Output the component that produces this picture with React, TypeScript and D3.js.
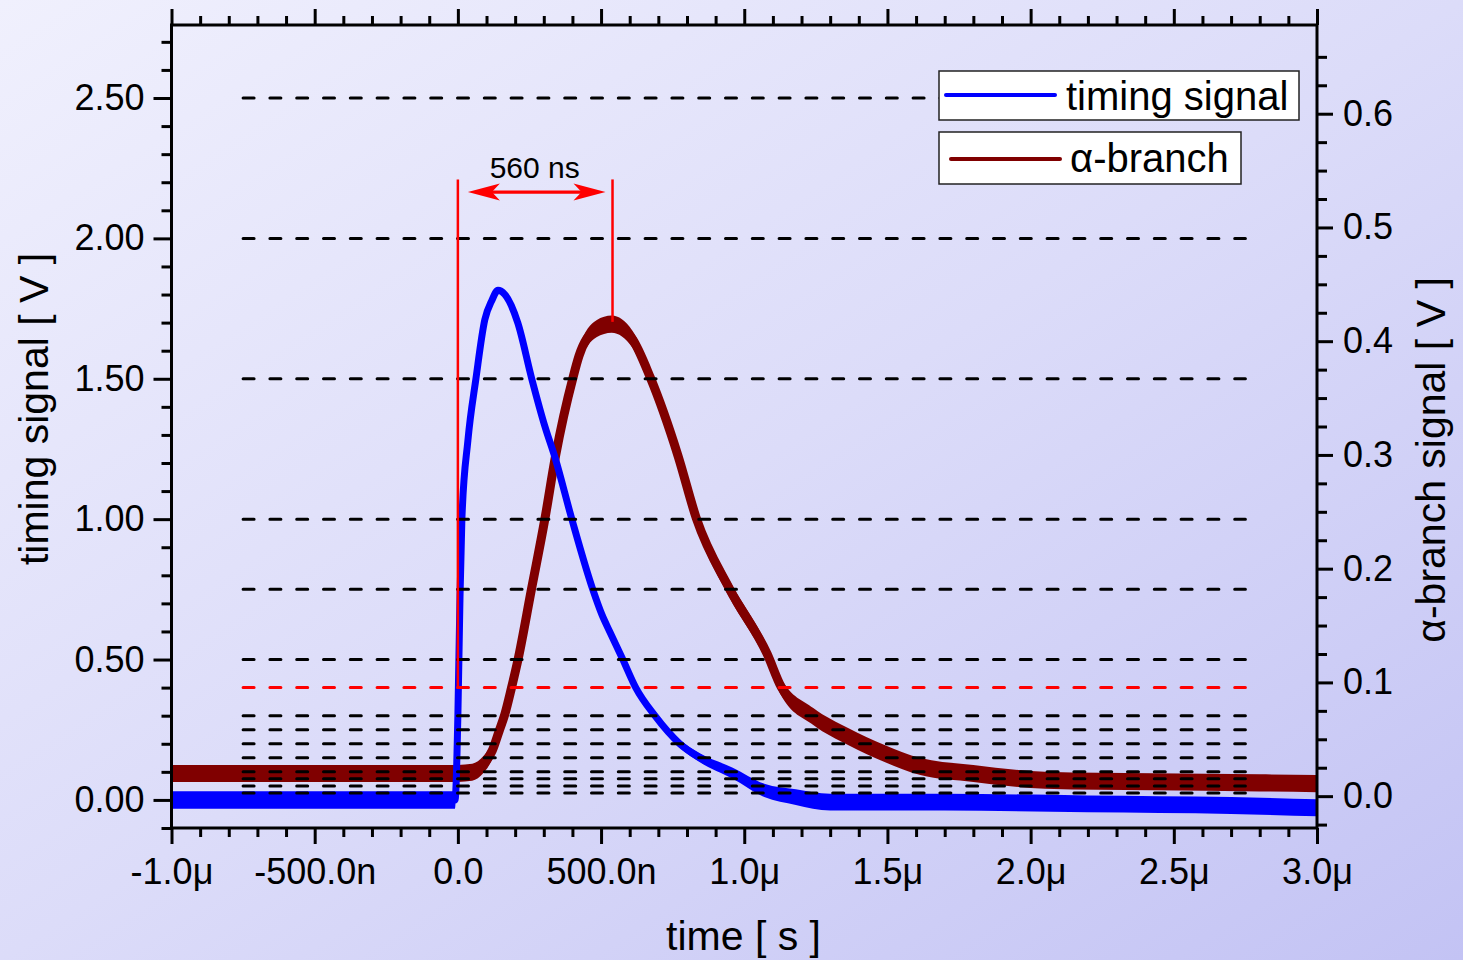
import { useEffect, useRef } from "react";
import * as d3 from "d3";

// time axis in µs, timing signal on the left axis [V]
const blueT = [-1.0, -0.75, -0.5, -0.25, -0.01, 0.0, 0.007, 0.014, 0.035, 0.063, 0.094, 0.119, 0.14, 0.164, 0.209, 0.258, 0.304, 0.339, 0.398, 0.471, 0.503, 0.53, 0.576, 0.621, 0.688, 0.775, 0.845, 0.96, 1.07, 1.18, 1.3, 1.7, 2.2, 2.7, 3.0];
const blueV = [0.0, 0.0, 0.0, 0.0, 0.0, 0.3, 0.7, 1.0, 1.28, 1.5, 1.71, 1.78, 1.815, 1.8, 1.7, 1.5, 1.33, 1.22, 1.0, 0.75, 0.66, 0.6, 0.5, 0.4, 0.3, 0.2, 0.15, 0.095, 0.034, 0.01, -0.008, -0.008, -0.014, -0.02, -0.028];
// half height of the noise band
const blueNoise = [0.031, 0.031, 0.031, 0.031, 0.031, 0.006, 0.004, 0.004, 0.004, 0.004, 0.005, 0.005, 0.006, 0.006, 0.006, 0.006, 0.006, 0.006, 0.006, 0.008, 0.008, 0.008, 0.01, 0.01, 0.012, 0.014, 0.016, 0.02, 0.024, 0.028, 0.03, 0.03, 0.03, 0.03, 0.03];

// alpha-branch on the right axis [V]
const brownT = [-1.0, -0.5, 0.0, 0.05, 0.09, 0.12, 0.145, 0.164, 0.187, 0.21, 0.257, 0.304, 0.341, 0.402, 0.423, 0.484, 0.537, 0.609, 0.672, 0.769, 0.833, 0.949, 1.08, 1.129, 1.241, 1.366, 1.49, 1.615, 1.8, 2.05, 2.425, 2.8, 3.0];
const brownV = [0.02, 0.02, 0.02, 0.021, 0.028, 0.04, 0.058, 0.072, 0.095, 0.12, 0.182, 0.244, 0.299, 0.368, 0.387, 0.411, 0.415, 0.402, 0.368, 0.299, 0.244, 0.182, 0.125, 0.096, 0.07, 0.052, 0.0375, 0.026, 0.02, 0.014, 0.0126, 0.0117, 0.011];
const brownNoise = [0.0075, 0.0075, 0.0075, 0.0075, 0.0075, 0.0075, 0.0075, 0.0075, 0.0075, 0.0075, 0.0075, 0.0075, 0.0075, 0.0075, 0.0075, 0.0075, 0.0075, 0.0075, 0.0075, 0.0075, 0.0075, 0.0075, 0.0075, 0.0075, 0.0075, 0.0075, 0.0075, 0.0075, 0.0075, 0.0075, 0.0075, 0.0075, 0.0075];

// dashed reference levels (left axis)
const guideLevels = [2.5, 2.0, 1.5, 1.0, 0.75, 0.5, 0.3, 0.25, 0.2, 0.15, 0.1, 0.075, 0.05, 0.025];
const thresholdLevel = 0.4;
const guideSpan = [-0.75, 2.75];

// 560 ns marker
const markerStart = 0;
const markerEnd = 0.54;
const markerTop = 2.21;
const markerPeak = 0.417;
const markerArrow = 2.165;
const markerLabel = "560 ns";

const xTicks = [-1, -0.5, 0, 0.5, 1, 1.5, 2, 2.5, 3];
const xTickLabels = ["-1.0μ", "-500.0n", "0.0", "500.0n", "1.0μ", "1.5μ", "2.0μ", "2.5μ", "3.0μ"];
const leftTicks = [0, 0.5, 1, 1.5, 2, 2.5];
const leftTickLabels = ["0.00", "0.50", "1.00", "1.50", "2.00", "2.50"];
const rightTicks = [0, 0.1, 0.2, 0.3, 0.4, 0.5, 0.6];
const rightTickLabels = ["0.0", "0.1", "0.2", "0.3", "0.4", "0.5", "0.6"];
const legendLabels = ["timing signal", "α-branch"];

const FONT = "'Liberation Sans', Arial, sans-serif";

const App = () => {
  const svgRef = useRef<SVGSVGElement>(null);

  useEffect(() => {
    const svg = d3.select(svgRef.current);
    svg.selectAll("*").remove();

    const width = 1463;
    const height = 960;
    const left = 171.5, right = 1317, top = 25, bottom = 828;

    const x = d3.scaleLinear().domain([-1, 3]).range([left, right]);
    const yL = d3.scaleLinear().domain([-0.1, 2.76]).range([bottom, top]);
    const yR = d3.scaleLinear().domain([-0.028, 0.678]).range([bottom, top]);

    // background
    const grad = svg.append("defs").append("linearGradient")
      .attr("id", "bg").attr("x1", 0).attr("y1", 0).attr("x2", 1).attr("y2", 1);
    grad.append("stop").attr("offset", "0%").attr("stop-color", "#f0f0fd");
    grad.append("stop").attr("offset", "50%").attr("stop-color", "#dcdcf9");
    grad.append("stop").attr("offset", "100%").attr("stop-color", "#c3c3f4");
    svg.append("rect").attr("width", width).attr("height", height).attr("fill", "url(#bg)");

    // curves: noise band + trace
    const drawTrace = (ts: number[], vs: number[], ns: number[], y: d3.ScaleLinear<number, number>, color: string, sw: number) => {
      const idx = d3.range(ts.length);
      const area = d3.area<number>()
        .curve(d3.curveMonotoneX)
        .x((i) => x(ts[i]))
        .y0((i) => y(vs[i] - ns[i]))
        .y1((i) => y(vs[i] + ns[i]));
      const line = d3.line<number>()
        .curve(d3.curveMonotoneX)
        .x((i) => x(ts[i]))
        .y((i) => y(vs[i]));
      svg.append("path").attr("d", area(idx)).attr("fill", color);
      svg.append("path").attr("d", line(idx))
        .attr("fill", "none").attr("stroke", color)
        .attr("stroke-width", sw).attr("stroke-linejoin", "round").attr("stroke-linecap", "butt");
    };
    drawTrace(brownT, brownV, brownNoise, yR, "#800000", 9);
    drawTrace(blueT, blueV, blueNoise, yL, "#0000ff", 7);

    // dashed levels
    const levels = guideLevels.map((v) => ({ v, c: "#000" })).concat([{ v: thresholdLevel, c: "#ff0000" }]);
    svg.selectAll("line.guide").data(levels).enter().append("line")
      .attr("class", "guide")
      .attr("x1", x(guideSpan[0])).attr("x2", x(guideSpan[1]))
      .attr("y1", (d) => yL(d.v)).attr("y2", (d) => yL(d.v))
      .attr("stroke", (d) => d.c).attr("stroke-width", 3)
      .attr("stroke-dasharray", "11,15.8").attr("stroke-linecap", "round");

    // marker lines + arrow
    const red = "#ff0000";
    svg.append("line")
      .attr("x1", x(markerStart)).attr("x2", x(markerStart))
      .attr("y1", yL(markerTop)).attr("y2", yL(thresholdLevel))
      .attr("stroke", red).attr("stroke-width", 2.5);
    svg.append("line")
      .attr("x1", x(markerEnd)).attr("x2", x(markerEnd))
      .attr("y1", yL(markerTop)).attr("y2", yR(markerPeak))
      .attr("stroke", red).attr("stroke-width", 2.5);
    const ay = yL(markerArrow);
    const ax0 = x(markerStart) + 10;
    const ax1 = x(markerEnd) - 7;
    svg.append("line").attr("x1", ax0 + 20).attr("x2", ax1 - 20).attr("y1", ay).attr("y2", ay)
      .attr("stroke", red).attr("stroke-width", 3.2);
    svg.append("path")
      .attr("d", `M${ax0},${ay} L${ax0 + 32},${ay - 8.5} L${ax0 + 24},${ay} L${ax0 + 32},${ay + 8.5} Z`)
      .attr("fill", red);
    svg.append("path")
      .attr("d", `M${ax1},${ay} L${ax1 - 32},${ay - 8.5} L${ax1 - 24},${ay} L${ax1 - 32},${ay + 8.5} Z`)
      .attr("fill", red);
    svg.append("text")
      .attr("x", (x(markerStart) + x(markerEnd)) / 2 - 0.5).attr("y", ay - 14)
      .attr("text-anchor", "middle").attr("font-family", FONT).attr("font-size", 30)
      .text(markerLabel);

    // axes
    const minorX = d3.range(-10, 31).map((d) => d / 10).filter((d) => Math.abs(d * 2 - Math.round(d * 2)) > 1e-6);
    const minorL = d3.range(-1, 28).map((d) => d / 10).filter((d) => Math.abs(d * 2 - Math.round(d * 2)) > 1e-6);
    const minorR = d3.range(-1, 27).map((d) => d / 40).filter((d) => Math.abs(d * 10 - Math.round(d * 10)) > 1e-6);

    const styleAxis = (g: d3.Selection<SVGGElement, unknown, null, undefined>) => {
      g.select(".domain").remove();
      g.attr("font-family", FONT).attr("font-size", 36);
      g.selectAll(".tick line").attr("stroke", "#000").attr("stroke-width", 3);
      g.selectAll(".tick text").attr("fill", "#000");
    };

    const addAxis = (axis: d3.Axis<d3.NumberValue>, tx: number, ty: number) => {
      const g = svg.append("g").attr("transform", `translate(${tx},${ty})`).call(axis as any);
      styleAxis(g as any);
    };

    addAxis(d3.axisBottom(x).tickValues(xTicks).tickFormat((_, i) => xTickLabels[i]).tickSize(16).tickPadding(14), 0, bottom);
    addAxis(d3.axisBottom(x).tickValues(minorX).tickFormat(() => "").tickSize(9), 0, bottom);
    addAxis(d3.axisTop(x).tickValues(xTicks).tickFormat(() => "").tickSize(16), 0, top);
    addAxis(d3.axisTop(x).tickValues(minorX).tickFormat(() => "").tickSize(9), 0, top);
    addAxis(d3.axisLeft(yL).tickValues(leftTicks).tickFormat((_, i) => leftTickLabels[i]).tickSize(18).tickPadding(9), left, 0);
    addAxis(d3.axisLeft(yL).tickValues(minorL).tickFormat(() => "").tickSize(10), left, 0);
    addAxis(d3.axisRight(yR).tickValues(rightTicks).tickFormat((_, i) => rightTickLabels[i]).tickSize(16).tickPadding(10), right, 0);
    addAxis(d3.axisRight(yR).tickValues(minorR).tickFormat(() => "").tickSize(10), right, 0);

    svg.append("rect")
      .attr("x", left).attr("y", top).attr("width", right - left).attr("height", bottom - top)
      .attr("fill", "none").attr("stroke", "#000").attr("stroke-width", 3);

    // legend
    const legend = [
      { label: legendLabels[0], color: "#0000ff", bx: 939, by: 71, bw: 360, bh: 49, l0: 946, l1: 1055, ly: 95, tx: 1066, ty: 110 },
      { label: legendLabels[1], color: "#800000", bx: 939, by: 132, bw: 302, bh: 52, l0: 951, l1: 1060, ly: 159, tx: 1070, ty: 172 },
    ];
    const lg = svg.selectAll("g.legend").data(legend).enter().append("g").attr("class", "legend");
    lg.append("rect")
      .attr("x", (d) => d.bx).attr("y", (d) => d.by).attr("width", (d) => d.bw).attr("height", (d) => d.bh)
      .attr("fill", "#fff").attr("stroke", "#222").attr("stroke-width", 1.5);
    lg.append("line")
      .attr("x1", (d) => d.l0).attr("x2", (d) => d.l1).attr("y1", (d) => d.ly).attr("y2", (d) => d.ly)
      .attr("stroke", (d) => d.color).attr("stroke-width", 4).attr("stroke-linecap", "round");
    lg.append("text")
      .attr("x", (d) => d.tx).attr("y", (d) => d.ty)
      .attr("font-family", FONT).attr("font-size", 40)
      .text((d) => d.label);

    // titles
    svg.append("text").attr("x", 743.5).attr("y", 950).attr("text-anchor", "middle")
      .attr("font-family", FONT).attr("font-size", 41).text("time [ s ]");
    svg.append("text").attr("transform", "translate(48,409) rotate(-90)").attr("text-anchor", "middle")
      .attr("font-family", FONT).attr("font-size", 41).text("timing signal [ V ]");
    svg.append("text").attr("transform", "translate(1445,460) rotate(-90)").attr("text-anchor", "middle")
      .attr("font-family", FONT).attr("font-size", 41).text("α-branch signal [ V ]");
  }, []);

  return (
    <svg
      ref={svgRef}
      width={1463}
      height={960}
      style={{ position: "absolute", left: 0, top: 0, display: "block" }}
    />
  );
};

export default App;
